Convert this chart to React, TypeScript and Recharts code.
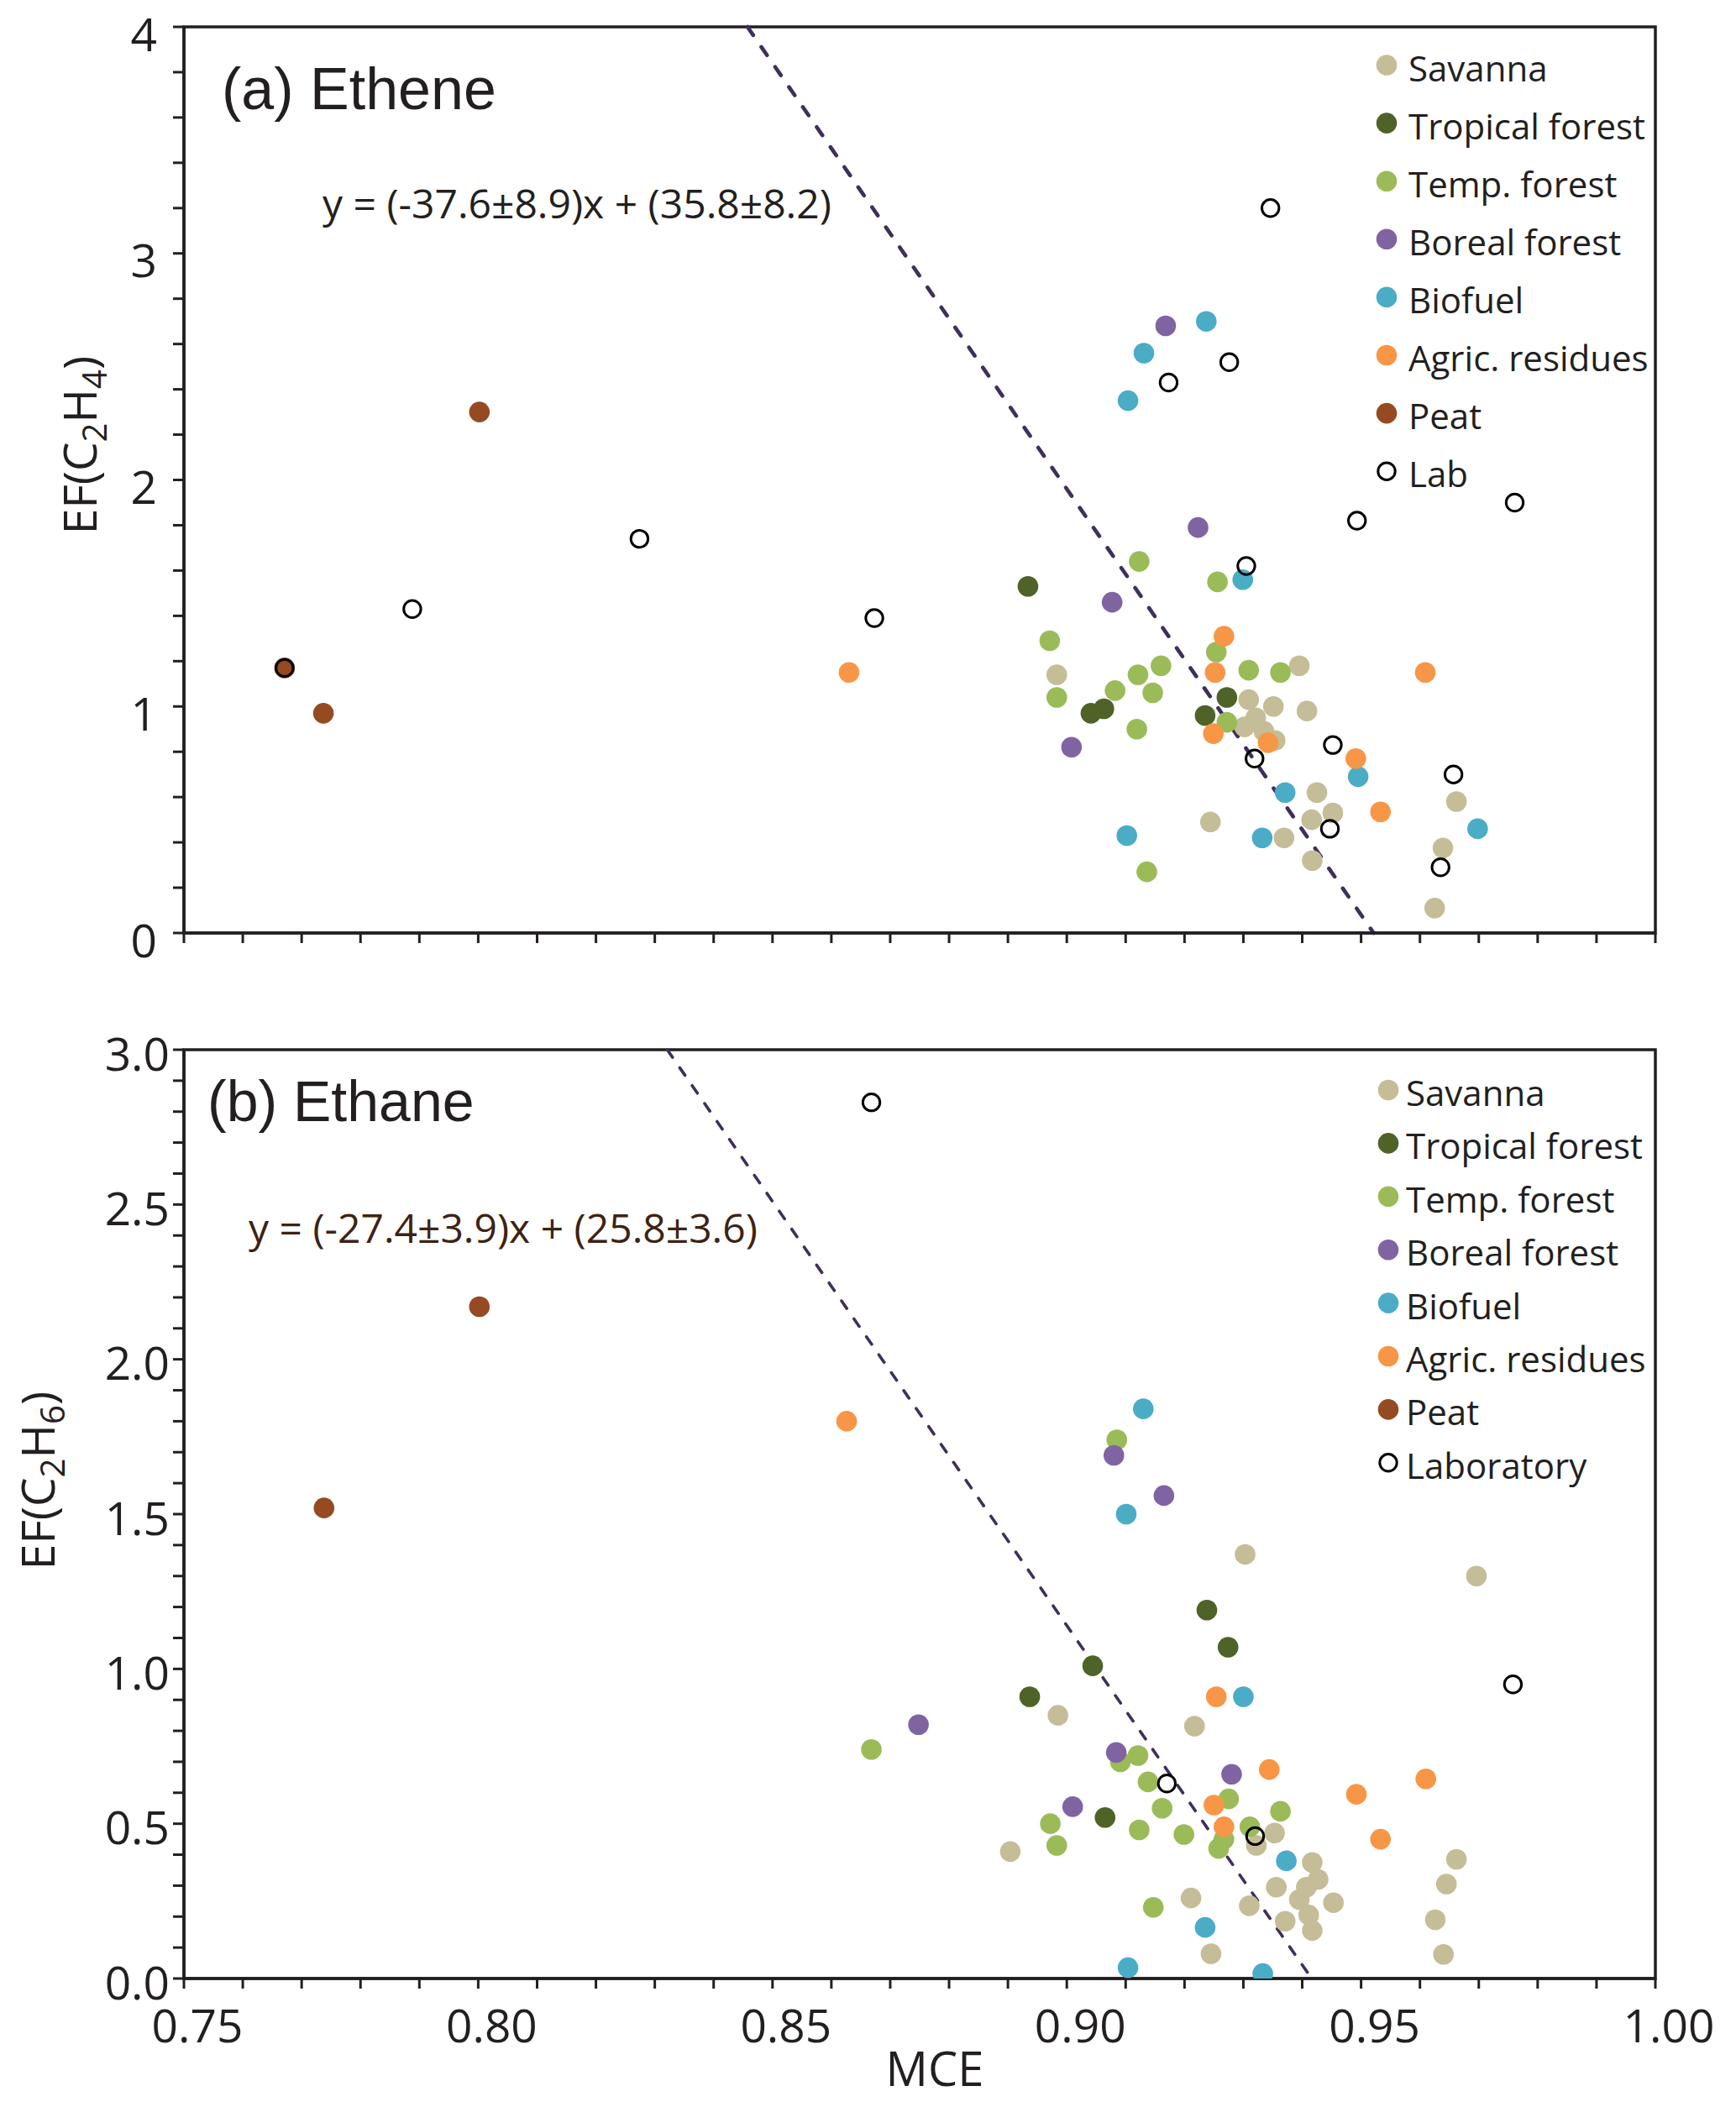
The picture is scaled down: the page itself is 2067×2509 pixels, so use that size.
import React from 'react';
import { ScatterChart, Scatter, XAxis, YAxis, ReferenceArea, ReferenceLine } from 'recharts';

// ---------- categories ----------
const CATEGORY_KEYS = ['savanna', 'tropical', 'temperate', 'boreal', 'biofuel', 'agric', 'peat', 'lab'];
const TOP_LEGEND_LABELS = ['Savanna', 'Tropical forest', 'Temp. forest', 'Boreal forest', 'Biofuel', 'Agric. residues', 'Peat', 'Lab'];
const BOTTOM_LEGEND_LABELS = ['Savanna', 'Tropical forest', 'Temp. forest', 'Boreal forest', 'Biofuel', 'Agric. residues', 'Peat', 'Laboratory'];
const CATEGORY_COLORS = ['#c4bd97', '#4f6228', '#9bbb59', '#8064a2', '#4bacc6', '#f79646', '#964a21', 'none'];

// ---------- (a) Ethene: [MCE, EF] ----------
const etheneSavanna = [
  [0.8983, 1.14], [0.9395, 1.18], [0.9309, 1.03], [0.9351, 1.0], [0.9408, 0.98], [0.9302, 0.91],
  [0.9321, 0.95], [0.9335, 0.89], [0.9354, 0.85], [0.9425, 0.62], [0.9452, 0.53], [0.9416, 0.5],
  [0.9244, 0.49], [0.9369, 0.42], [0.9417, 0.32], [0.9662, 0.58], [0.9639, 0.375], [0.9625, 0.11],
];
const etheneTropical = [[0.8934, 1.53], [0.9041, 0.97], [0.9063, 0.99], [0.9272, 1.04], [0.9235, 0.96]];
const etheneTemperate = [
  [0.9123, 1.64], [0.9256, 1.55], [0.8971, 1.29], [0.9254, 1.24], [0.916, 1.18], [0.9121, 1.14],
  [0.9309, 1.16], [0.9363, 1.15], [0.8983, 1.04], [0.9082, 1.07], [0.9146, 1.06], [0.9119, 0.9],
  [0.9272, 0.93], [0.9136, 0.27],
];
const etheneBoreal = [[0.9168, 2.68], [0.9223, 1.79], [0.9077, 1.46], [0.9008, 0.82]];
const etheneBiofuel = [
  [0.9237, 2.7], [0.9131, 2.56], [0.9104, 2.35], [0.9299, 1.56], [0.9495, 0.69], [0.9371, 0.62],
  [0.9102, 0.43], [0.9332, 0.42], [0.9698, 0.46],
];
const etheneAgric = [
  [0.863, 1.15], [0.9267, 1.31], [0.9252, 1.15], [0.9249, 0.88], [0.9342, 0.84], [0.9491, 0.77],
  [0.9533, 0.535], [0.9609, 1.15],
];
const ethenePeat = [[0.7671, 1.17], [0.7737, 0.97], [0.8002, 2.3]];
const etheneLab = [
  [0.7671, 1.17], [0.7888, 1.43], [0.8274, 1.74], [0.8673, 1.39], [0.9346, 3.2], [0.9276, 2.52],
  [0.9173, 2.43], [0.9761, 1.9], [0.9493, 1.82], [0.9305, 1.62], [0.9452, 0.83], [0.9319, 0.77],
  [0.9447, 0.46], [0.9657, 0.7], [0.9635, 0.29],
];

// ---------- (b) Ethane: [MCE, EF] ----------
const ethaneSavanna = [
  [0.8904, 0.41], [0.8985, 0.85], [0.9217, 0.815], [0.9303, 1.37], [0.9696, 1.3], [0.9353, 0.47],
  [0.9322, 0.43], [0.9417, 0.375], [0.9427, 0.32], [0.9407, 0.295], [0.9356, 0.295], [0.9395, 0.255],
  [0.9453, 0.245], [0.9211, 0.26], [0.931, 0.235], [0.9411, 0.205], [0.9371, 0.185], [0.9417, 0.155],
  [0.9245, 0.08], [0.9662, 0.385], [0.9645, 0.305], [0.9626, 0.19], [0.964, 0.078],
];
const ethaneTropical = [[0.9238, 1.19], [0.9274, 1.07], [0.9044, 1.01], [0.8937, 0.91], [0.9065, 0.52]];
const ethaneTemperate = [
  [0.9085, 1.74], [0.8668, 0.74], [0.8972, 0.5], [0.8983, 0.43], [0.9121, 0.72], [0.9091, 0.7],
  [0.9138, 0.635], [0.9162, 0.55], [0.9123, 0.48], [0.9199, 0.465], [0.9275, 0.58], [0.9267, 0.45],
  [0.9258, 0.42], [0.9311, 0.49], [0.9363, 0.54], [0.9147, 0.23],
];
const ethaneBoreal = [[0.908, 1.69], [0.9165, 1.56], [0.8748, 0.82], [0.9084, 0.73], [0.928, 0.66], [0.901, 0.555]];
const ethaneBiofuel = [
  [0.913, 1.84], [0.9101, 1.5], [0.93, 0.91], [0.9373, 0.38], [0.9235, 0.165], [0.9104, 0.035], [0.9333, 0.016],
];
const ethaneAgric = [
  [0.8626, 1.8], [0.9254, 0.91], [0.9344, 0.675], [0.961, 0.645], [0.9492, 0.595], [0.925, 0.56],
  [0.9267, 0.49], [0.9533, 0.45],
];
const ethanePeat = [[0.8002, 2.17], [0.7738, 1.52]];
const ethaneLab = [[0.8668, 2.83], [0.917, 0.63], [0.932, 0.46], [0.9758, 0.95]];

// ---------- regressions: slope, intercept ----------
const etheneFit = { slope: -37.6, intercept: 35.8 };
const ethaneFit = { slope: -27.4, intercept: 25.8 };

// ---------- axes ----------
const X_DOMAIN = [0.75, 1.0];
const X_TICKS = [0.75, 0.76, 0.77, 0.78, 0.79, 0.8, 0.81, 0.82, 0.83, 0.84, 0.85, 0.86, 0.87, 0.88, 0.89, 0.9,
  0.91, 0.92, 0.93, 0.94, 0.95, 0.96, 0.97, 0.98, 0.99, 1.0];
const X_LABELED = [0.75, 0.8, 0.85, 0.9, 0.95, 1.0];
const TOP_Y_DOMAIN = [0, 4];
const TOP_Y_TICKS = [0, 0.2, 0.4, 0.6, 0.8, 1, 1.2, 1.4, 1.6, 1.8, 2, 2.2, 2.4, 2.6, 2.8, 3, 3.2, 3.4, 3.6, 3.8, 4];
const TOP_Y_LABELED = [0, 1, 2, 3, 4];
const BOTTOM_Y_DOMAIN = [0, 3];
const BOTTOM_Y_TICKS = [0, 0.1, 0.2, 0.3, 0.4, 0.5, 0.6, 0.7, 0.8, 0.9, 1.0, 1.1, 1.2, 1.3, 1.4, 1.5, 1.6, 1.7,
  1.8, 1.9, 2.0, 2.1, 2.2, 2.3, 2.4, 2.5, 2.6, 2.7, 2.8, 2.9, 3.0];
const BOTTOM_Y_LABELED = [0, 0.5, 1.0, 1.5, 2.0, 2.5, 3.0];

const etheneSeries = [etheneSavanna, etheneTropical, etheneTemperate, etheneBoreal, etheneBiofuel, etheneAgric, ethenePeat, etheneLab];
const ethaneSeries = [ethaneSavanna, ethaneTropical, ethaneTemperate, ethaneBoreal, ethaneBiofuel, ethaneAgric, ethanePeat, ethaneLab];

const INK = '#231f20';
const DOT_R = 12.3;
const LAB_R = 10.2;
const toPoints = (arr: number[][]) => arr.map(([x, y]) => ({ x, y }));

const makeShape = (idx: number) => (props: any) => {
  const { cx, cy } = props;
  if (cx == null || cy == null) return <g />;
  if (CATEGORY_KEYS[idx] === 'lab') {
    return <circle cx={cx} cy={cy} r={LAB_R} fill="none" stroke="#000" strokeWidth={3} />;
  }
  return <circle cx={cx} cy={cy} r={DOT_R} fill={CATEGORY_COLORS[idx]} />;
};

function Panel({ series, yDomain, yTicks, yLabeled, yFmt, fit, height, marginTop, xAxisHeight, showXLabels,
  yTickMargin, yDy, lineDash, lineWidth }: any) {
  const yMax = yDomain[1];
  const xAtTop = (yMax - fit.intercept) / fit.slope;
  const xAtZero = -fit.intercept / fit.slope;
  return (
    <ScatterChart width={2067} height={height} margin={{ top: marginTop, right: 96, bottom: 0, left: 0 }}>
      <XAxis
        type="number" dataKey="x" domain={X_DOMAIN} ticks={X_TICKS} interval={0} height={xAxisHeight}
        allowDataOverflow tickSize={12} tickMargin={25}
        axisLine={{ stroke: INK, strokeWidth: 3.5 }} tickLine={{ stroke: INK, strokeWidth: 3 }}
        tick={{ fill: INK, fontSize: 55, fontFamily: 'Open Sans', dx: 16 }}
        tickFormatter={(v: number) => (showXLabels && X_LABELED.includes(v) ? v.toFixed(2) : '')}
      />
      <YAxis
        type="number" dataKey="y" domain={yDomain} ticks={yTicks} interval={0} width={219}
        allowDataOverflow tickSize={13} tickMargin={yTickMargin}
        axisLine={{ stroke: INK, strokeWidth: 3.5 }} tickLine={{ stroke: INK, strokeWidth: 3 }}
        tick={{ fill: INK, fontSize: 55, fontFamily: 'Open Sans', dy: yDy }}
        tickFormatter={(v: number) => (yLabeled.includes(v) ? yFmt(v) : '')}
      />
      <ReferenceArea x1={X_DOMAIN[0]} x2={X_DOMAIN[1]} y1={yDomain[0]} y2={yDomain[1]} fill="none"
        fillOpacity={0} stroke={INK} strokeWidth={3.5} ifOverflow="visible" />
      {series.map((arr: number[][], i: number) => (
        <Scatter key={CATEGORY_KEYS[i]} name={CATEGORY_KEYS[i]} data={toPoints(arr)} shape={makeShape(i)}
          isAnimationActive={false} />
      ))}
      <ReferenceLine
        segment={[{ x: xAtTop, y: yMax }, { x: xAtZero, y: 0 }]}
        stroke="#3f2f5c" strokeWidth={lineWidth} strokeDasharray={lineDash} strokeLinecap="round"
        ifOverflow="visible"
      />
    </ScatterChart>
  );
}

function Legend({ labels, x, textX, y0, step }: any) {
  return (
    <g>
      {labels.map((lab: string, i: number) => {
        const cy = y0 + step * i;
        const isLab = CATEGORY_KEYS[i] === 'lab';
        return (
          <g key={lab}>
            {isLab ? (
              <circle cx={x} cy={cy} r={LAB_R} fill="none" stroke="#000" strokeWidth={3} />
            ) : (
              <circle cx={x} cy={cy} r={DOT_R} fill={CATEGORY_COLORS[i]} />
            )}
            <text x={textX} y={cy + 19} fontSize={42} fontFamily="Open Sans" fill={INK}>{lab}</text>
          </g>
        );
      })}
    </g>
  );
}

export default function App() {
  return (
    <div style={{ position: 'absolute', left: 0, top: 0, width: 2067, height: 2509, background: '#fff', overflow: 'hidden' }}>
      <div style={{ position: 'absolute', left: 0, top: 0 }}>
        <Panel series={etheneSeries} yDomain={TOP_Y_DOMAIN} yTicks={TOP_Y_TICKS} yLabeled={TOP_Y_LABELED}
          yFmt={(v: number) => String(v)} fit={etheneFit} height={1200} marginTop={32} xAxisHeight={89}
          showXLabels={false} yTickMargin={19} yDy={9} lineDash="12 17" lineWidth={4.6} />
      </div>
      <div style={{ position: 'absolute', left: 0, top: 1200 }}>
        <Panel series={ethaneSeries} yDomain={BOTTOM_Y_DOMAIN} yTicks={BOTTOM_Y_TICKS} yLabeled={BOTTOM_Y_LABELED}
          yFmt={(v: number) => v.toFixed(1)} fit={ethaneFit} height={1309} marginTop={50} xAxisHeight={153}
          showXLabels={true} yTickMargin={4} yDy={5} lineDash="11 15" lineWidth={3.6} />
      </div>
      <svg width={2067} height={2509} style={{ position: 'absolute', left: 0, top: 0, pointerEvents: 'none' }}>
        <text x={264} y={130} fontSize={70} fontFamily="Liberation Sans" fill={INK}>(a) Ethene</text>
        <text x={384} y={260} fontSize={48} fontFamily="Open Sans" fill={INK}>y = (-37.6±8.9)x + (35.8±8.2)</text>
        <text x={247} y={1335} fontSize={68} fontFamily="Liberation Sans" fill={INK}>(b) Ethane</text>
        <text x={296} y={1480} fontSize={48} fontFamily="Open Sans" fill="#3d2314">y = (-27.4±3.9)x + (25.8±3.6)</text>
        <text x={1113} y={2484} fontSize={56} fontFamily="Open Sans" fill={INK} textAnchor="middle">MCE</text>
        <text transform="translate(115,530) rotate(-90)" fontSize={55} fontFamily="Open Sans" fill={INK} textAnchor="middle">
          EF(C<tspan fontSize={40} dy={12}>2</tspan><tspan dy={-12}>H</tspan><tspan fontSize={40} dy={12}>4</tspan><tspan dy={-12}>)</tspan>
        </text>
        <text transform="translate(65,1763) rotate(-90)" fontSize={55} fontFamily="Open Sans" fill={INK} textAnchor="middle">
          EF(C<tspan fontSize={40} dy={12}>2</tspan><tspan dy={-12}>H</tspan><tspan fontSize={40} dy={12}>6</tspan><tspan dy={-12}>)</tspan>
        </text>
        <Legend labels={TOP_LEGEND_LABELS} x={1651} textX={1677} y0={77.5} step={69.1} />
        <Legend labels={BOTTOM_LEGEND_LABELS} x={1653} textX={1674} y0={1298} step={63.4} />
      </svg>
    </div>
  );
}
